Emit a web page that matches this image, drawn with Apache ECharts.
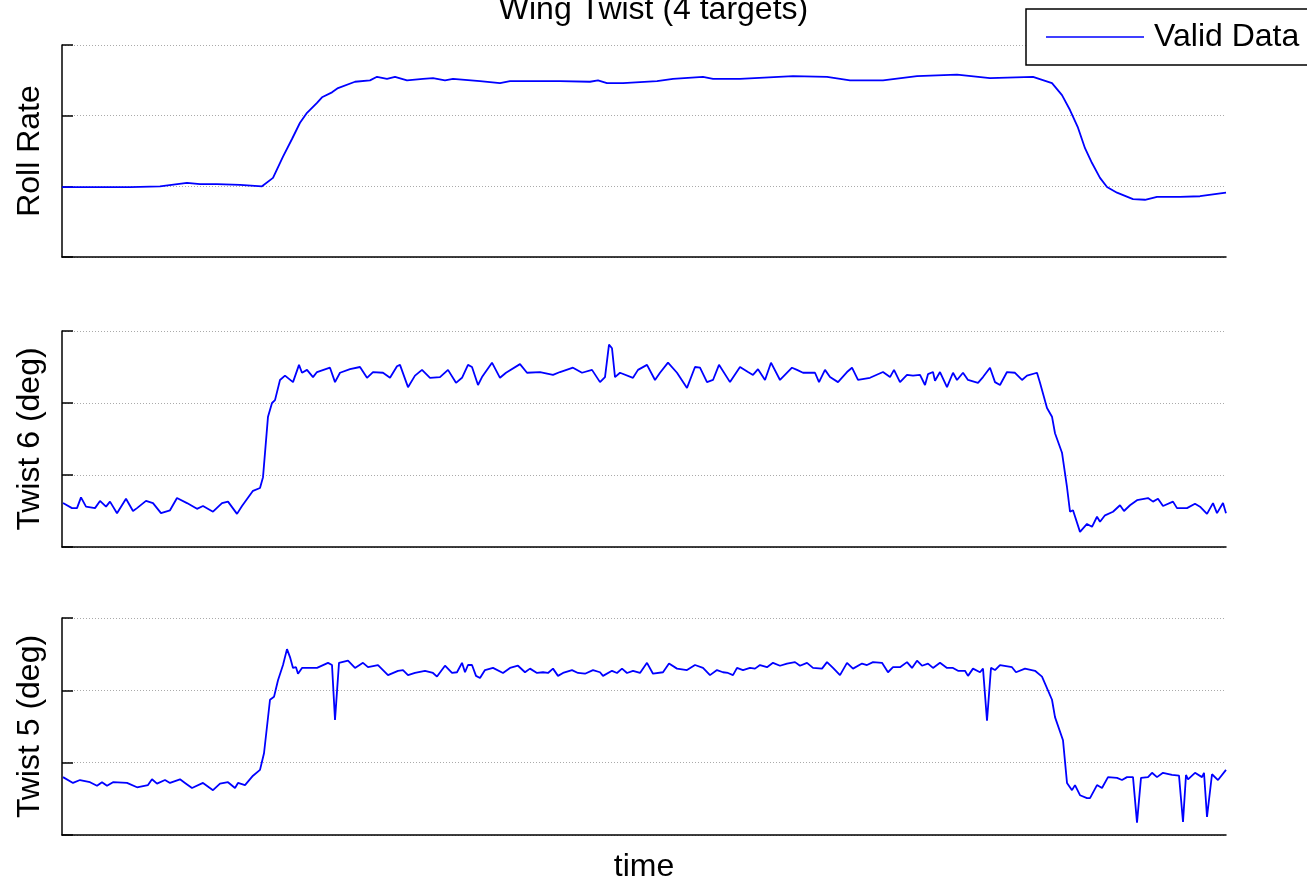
<!DOCTYPE html>
<html>
<head>
<meta charset="utf-8">
<script src="https://cdn.jsdelivr.net/npm/echarts@6/dist/echarts.min.js"></script>
<style>
html,body{margin:0;padding:0;background:#fff;}
#c{width:1307px;height:881px;}
</style>
</head>
<body>
<div id="c"></div>
<script>
const titleText = 'Wing Twist (4 targets)';
const legendName = 'Valid Data';
const xName = 'time';
const yNames = ['Roll Rate', 'Twist 6 (deg)', 'Twist 5 (deg)'];
const timeMax = 116.4;

const rollT = [0,6.8,9.8,12.5,13.8,15.5,17.8,20.0,21.1,22.1,23.0,23.8,24.5,25.5,26.0,27.0,27.6,29.3,30.8,31.5,32.5,33.3,34.5,36.1,37.1,38.3,39.1,41.8,43.8,44.8,47.8,49.8,52.8,53.6,54.5,56.1,59.5,61.1,64.1,65.1,67.8,73.1,76.5,78.8,82.1,85.5,89.5,92.8,97.1,99.0,100.0,100.8,101.6,102.3,103.0,103.8,104.5,105.5,107.1,108.3,109.5,111.8,113.8,116.4];
const rollV = [0.99,0.99,1.00,1.05,1.03,1.03,1.02,1.00,1.12,1.42,1.67,1.90,2.04,2.18,2.26,2.33,2.39,2.48,2.50,2.55,2.52,2.55,2.50,2.52,2.53,2.50,2.52,2.49,2.46,2.49,2.49,2.49,2.48,2.50,2.46,2.46,2.49,2.52,2.55,2.52,2.52,2.56,2.55,2.50,2.50,2.56,2.58,2.53,2.55,2.46,2.29,2.08,1.83,1.54,1.33,1.12,0.99,0.91,0.82,0.81,0.85,0.85,0.86,0.91];

const twist6T = [0.1,1.0,1.5,1.9,2.4,3.3,3.8,4.4,4.8,5.5,6.4,7.1,7.5,8.4,9.1,9.9,10.8,11.5,12.5,13.5,14.1,15.1,16.0,16.6,17.5,18.0,19.1,19.8,20.1,20.6,21.0,21.3,21.8,22.3,23.1,23.7,24.0,24.5,25.1,25.5,26.8,27.3,27.8,28.8,29.8,30.5,31.1,32.1,32.8,33.5,33.8,34.6,35.3,36.0,36.8,37.8,38.6,39.4,40.0,40.6,41.0,41.6,42.0,43.0,43.8,44.4,45.8,46.5,47.8,49.1,49.8,51.1,52.0,53.0,53.8,54.3,54.7,55.0,55.3,55.8,57.1,57.6,58.5,59.3,59.8,60.6,61.5,62.5,63.3,63.8,64.5,65.1,65.7,66.8,67.8,68.6,69.1,69.6,70.3,70.9,71.8,73.0,73.5,74.1,75.3,75.7,76.3,76.8,77.6,78.5,79.0,79.6,80.8,82.1,82.8,83.2,83.8,84.5,85.1,85.8,86.3,86.6,87.1,87.3,87.8,88.5,89.1,89.5,90.1,90.6,91.6,92.1,92.8,93.3,93.8,94.5,95.3,96.0,96.5,97.5,97.8,98.5,99.0,99.3,100.0,100.5,100.8,101.1,101.8,102.5,103.0,103.5,103.8,104.3,105.1,105.8,106.2,106.8,107.5,108.6,109.1,109.6,110.1,111.1,111.5,112.5,113.3,113.8,114.5,115.1,115.5,116.1,116.4];
const twist6V = [0.61,0.54,0.54,0.69,0.56,0.54,0.64,0.56,0.63,0.47,0.67,0.50,0.54,0.64,0.61,0.47,0.51,0.68,0.61,0.53,0.57,0.49,0.61,0.63,0.46,0.57,0.78,0.82,0.97,1.81,2.00,2.04,2.32,2.38,2.29,2.53,2.42,2.46,2.36,2.43,2.49,2.29,2.42,2.47,2.50,2.35,2.43,2.42,2.35,2.51,2.53,2.22,2.38,2.46,2.35,2.36,2.46,2.28,2.35,2.53,2.50,2.25,2.36,2.56,2.35,2.42,2.54,2.42,2.43,2.39,2.43,2.49,2.42,2.46,2.29,2.36,2.81,2.76,2.36,2.42,2.35,2.46,2.53,2.32,2.42,2.56,2.42,2.21,2.50,2.49,2.29,2.32,2.53,2.29,2.50,2.43,2.39,2.47,2.32,2.56,2.32,2.49,2.46,2.42,2.42,2.29,2.46,2.36,2.29,2.43,2.49,2.32,2.35,2.43,2.36,2.46,2.29,2.39,2.38,2.39,2.25,2.40,2.43,2.31,2.43,2.22,2.42,2.32,2.42,2.32,2.28,2.36,2.49,2.29,2.25,2.43,2.42,2.32,2.38,2.42,2.28,1.93,1.81,1.58,1.31,0.83,0.49,0.51,0.21,0.32,0.28,0.42,0.35,0.44,0.49,0.58,0.50,0.58,0.65,0.68,0.63,0.67,0.57,0.63,0.54,0.54,0.60,0.56,0.46,0.61,0.47,0.61,0.47];

const twist5T = [0.1,1.1,1.8,2.8,3.5,4.0,4.5,5.1,6.5,7.5,8.6,9.0,9.5,10.3,10.8,11.8,12.3,13.0,14.1,15.1,15.8,16.6,17.3,17.6,18.3,19.1,19.8,20.2,20.8,21.2,21.6,22.1,22.5,22.8,23.1,23.4,23.6,24.0,24.8,25.5,26.6,27.0,27.3,27.7,28.6,29.3,30.1,30.6,31.6,32.6,33.6,33.8,34.1,34.6,35.3,36.3,37.1,37.5,38.3,39.0,39.5,40.0,40.3,40.6,41.0,41.4,41.8,42.3,43.1,44.1,44.8,45.6,46.3,46.8,47.5,48.1,48.6,49.1,49.6,50.1,51.0,51.6,52.3,53.1,53.8,54.1,55.0,55.5,56.0,56.5,57.1,57.8,58.5,59.1,60.1,60.7,61.5,62.5,63.3,64.1,64.8,65.5,66.1,66.6,67.1,67.5,68.1,68.8,69.3,69.8,70.5,71.1,71.8,72.5,73.3,73.8,74.5,75.1,76.0,76.5,77.1,77.8,78.5,79.1,80.0,80.5,81.1,82.0,82.6,83.1,83.8,84.5,85.0,85.5,86.0,86.6,87.1,87.8,88.5,89.1,89.6,90.3,90.6,91.1,91.8,92.1,92.5,92.9,93.3,93.8,95.0,95.4,96.3,97.3,98.0,99.0,99.3,100.1,100.5,101.0,101.3,101.8,102.5,102.8,103.5,104.0,104.6,105.5,106.0,106.5,107.1,107.5,107.9,108.6,109.0,109.5,110.1,111.0,111.7,112.1,112.4,112.6,113.3,114.0,114.2,114.5,115.0,115.6,116.4];
const twist5V = [0.80,0.72,0.76,0.73,0.68,0.73,0.68,0.73,0.72,0.66,0.69,0.77,0.71,0.76,0.72,0.77,0.72,0.65,0.72,0.62,0.71,0.73,0.65,0.72,0.69,0.82,0.90,1.13,1.87,1.91,2.14,2.35,2.57,2.46,2.31,2.32,2.23,2.31,2.31,2.31,2.38,2.35,1.59,2.38,2.41,2.31,2.38,2.32,2.35,2.21,2.27,2.25,2.28,2.21,2.24,2.27,2.24,2.19,2.34,2.24,2.25,2.38,2.25,2.35,2.35,2.20,2.17,2.28,2.31,2.24,2.31,2.34,2.25,2.30,2.24,2.25,2.24,2.30,2.20,2.24,2.28,2.24,2.23,2.28,2.25,2.20,2.27,2.24,2.30,2.24,2.27,2.24,2.38,2.23,2.25,2.37,2.30,2.28,2.35,2.31,2.21,2.28,2.25,2.24,2.21,2.31,2.28,2.31,2.30,2.35,2.32,2.38,2.34,2.37,2.39,2.34,2.38,2.31,2.30,2.39,2.31,2.21,2.38,2.30,2.37,2.35,2.39,2.38,2.25,2.32,2.32,2.39,2.31,2.41,2.34,2.37,2.31,2.38,2.31,2.31,2.27,2.27,2.20,2.30,2.25,2.30,1.58,2.31,2.28,2.35,2.32,2.25,2.30,2.27,2.19,1.87,1.63,1.31,0.72,0.62,0.69,0.55,0.51,0.51,0.69,0.65,0.80,0.79,0.76,0.80,0.80,0.17,0.79,0.80,0.86,0.80,0.86,0.83,0.82,0.18,0.83,0.77,0.86,0.80,0.86,0.25,0.84,0.76,0.90];

const pairs = (t, v) => t.map((x, i) => [x, v[i]]);
const seriesData = [pairs(rollT, rollV), pairs(twist6T, twist6V), pairs(twist5T, twist5V)];

const FONT = 'Liberation Sans';
const grids = [
  {left: 62, top: 45, width: 1164, height: 212},
  {left: 62, top: 331, width: 1164, height: 216},
  {left: 62, top: 618, width: 1164, height: 217}
];

const chart = echarts.init(document.getElementById('c'), null, {renderer: 'canvas'});
chart.setOption({
  animation: false,
  backgroundColor: '#fff',
  title: {
    text: titleText, left: 'center', top: -11,
    textStyle: {fontFamily: FONT, fontSize: 32, fontWeight: 'normal', color: '#000'}
  },
  legend: {
    data: [legendName], left: 1026, top: 9, orient: 'horizontal',
    backgroundColor: '#fff', borderColor: '#000', borderWidth: 1.5,
    padding: [10, 40, 10, 20], itemWidth: 98, itemHeight: 1.6, icon: 'rect',
    textStyle: {fontFamily: FONT, fontSize: 32, color: '#000', padding: [0, 0, 0, 5], lineHeight: 36},
    z: 10
  },
  grid: grids.map(g => Object.assign({containLabel: false, outerBoundsMode: 'none'}, g)),
  xAxis: grids.map((g, i) => ({
    type: 'value', gridIndex: i, min: 0, max: timeMax,
    axisLine: {show: true, onZero: false, lineStyle: {color: '#000', width: 1.5}},
    axisTick: {show: false}, axisLabel: {show: false}, splitLine: {show: false},
    name: i === 2 ? xName : '', nameLocation: 'middle', nameGap: 16,
    nameTextStyle: {fontFamily: FONT, fontSize: 32, color: '#000'}
  })),
  yAxis: grids.map((g, i) => ({
    type: 'value', gridIndex: i, min: 0, max: 3, interval: 1,
    axisLine: {show: true, lineStyle: {color: '#000', width: 1.5}},
    axisTick: {show: true, inside: true, length: 11, lineStyle: {color: '#000', width: 1.5}},
    axisLabel: {show: false},
    splitLine: {show: true, lineStyle: {color: '#aaa', type: [1, 2], width: 1}},
    name: yNames[i], nameLocation: 'middle', nameGap: 16, nameRotate: 90,
    nameTextStyle: {fontFamily: FONT, fontSize: 32, color: '#000'}
  })),
  series: seriesData.map((d, i) => ({
    name: legendName, type: 'line', xAxisIndex: i, yAxisIndex: i,
    data: d, showSymbol: false, symbol: 'none',
    lineStyle: {color: '#0000ff', width: 1.8}, itemStyle: {color: '#0000ff'}
  }))
});
</script>
</body>
</html>
